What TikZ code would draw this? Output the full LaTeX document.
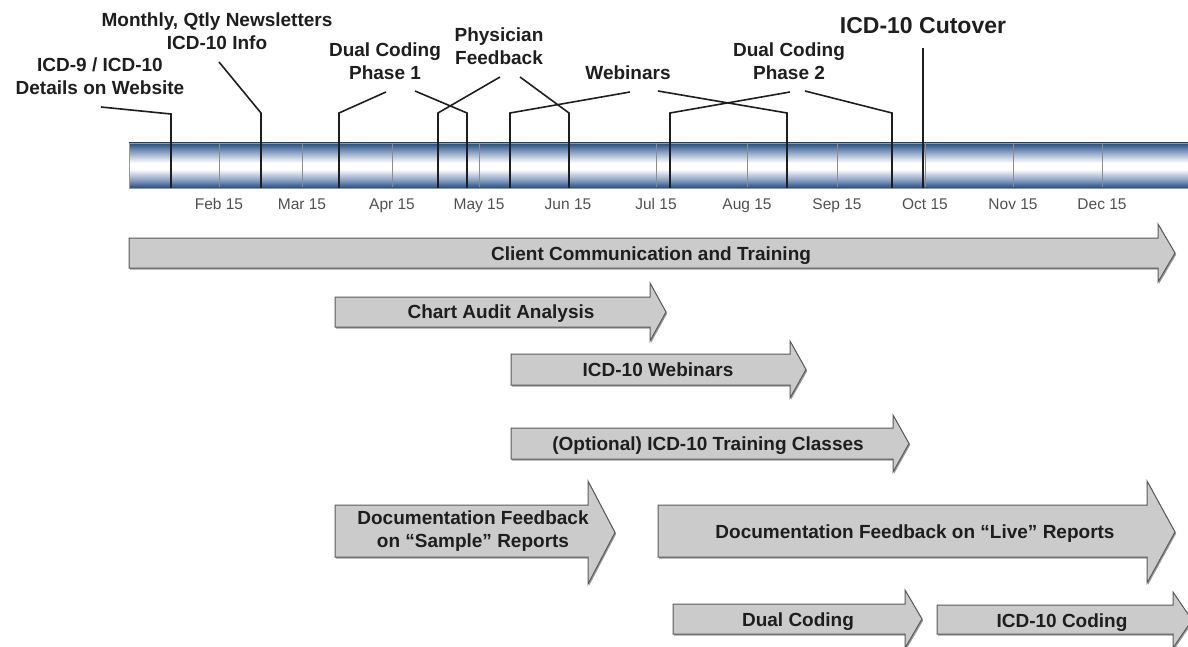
\documentclass[tikz,border=0pt]{standalone}
\usepackage{fontspec}
\setmainfont{Liberation Sans}
\usetikzlibrary{shadows}
\definecolor{barblue}{HTML}{234B7E}
\definecolor{barmid}{HTML}{7F99BD}
\definecolor{arrowfill}{HTML}{CBCBCB}
\definecolor{arrowline}{HTML}{5A5A5A}
\definecolor{monthgray}{HTML}{505050}
\definecolor{inkc}{HTML}{1E1E1E}
\pgfdeclareverticalshading{barshade}{100bp}{color(0bp)=(barblue); color(25bp)=(barblue); color(33bp)=(barmid); color(46bp)=(white); color(53bp)=(white); color(66bp)=(barmid); color(75bp)=(barblue); color(100bp)=(barblue)}
\newcommand\blkarrow[8]{%
  \path[blk] (#1,#4) -- (#2,#4) -- (#2,#6) -- (#3,{(#6+#7)/2}) -- (#2,#7) -- (#2,#5) -- (#1,#5) -- cycle;
}
\begin{document}
\begin{tikzpicture}[x=1pt,y=-1pt,
  lbl/.style={font=\fontsize{19}{23}\selectfont\bfseries, text=inkc, align=center, inner sep=0pt},
  month/.style={font=\fontsize{15.5}{18}\selectfont, text=monthgray, inner sep=0pt, anchor=base},
  call/.style={line width=1.6pt, draw=inkc},
  gridl/.style={line width=0.8pt, draw=black!45},
  blk/.style={fill=arrowfill, draw=arrowline, line width=1pt,
    drop shadow={shadow xshift=1.2pt, shadow yshift=-1.5pt, fill=black!40, opacity=1}},
  atext/.style={font=\fontsize{19}{23}\selectfont\bfseries, text=inkc, align=center, inner sep=0pt},
  abase/.style={atext, anchor=base}]
\useasboundingbox (0,0) rectangle (1188,647);

% timeline bar
\shade[shading=barshade] (129,143) rectangle (1195,188);
\draw[black!40, line width=0.6pt] (1195,143) -- (129,143) -- (129,188) -- (1195,188);
\foreach \gx in {219,302,392,479,568,656,747,837,925,1013,1102}
  \draw[gridl] (\gx,144) -- (\gx,187);

% month labels
\foreach \gx/\m in {219/Feb,302/Mar,392/Apr,479/May,568/Jun,656/Jul,747/Aug,837/Sep,925/Oct,1013/Nov,1102/Dec}
  \node[month] (m\m) at (\gx,209) {\m\ 15};

% callout labels
\node[lbl] (lweb) at (100,76) {ICD-9 / ICD-10\\Details on Website};
\node[lbl] (lnews) at (217,31) {Monthly, Qtly Newsletters\\ICD-10 Info};
\node[lbl] (ldc1) at (385,61) {Dual Coding\\Phase 1};
\node[lbl] (lphys) at (499,46) {Physician\\Feedback};
\node[lbl] (lwebin) at (628,73) {Webinars};
\node[lbl] (ldc2) at (789,61) {Dual Coding\\Phase 2};
\node[font=\fontsize{23}{26}\selectfont\bfseries, text=inkc, inner sep=0pt] (lcut) at (923,26) {ICD-10 Cutover};

% callout connector ends
\coordinate (eweb) at (101,107);
\coordinate (enews) at (219,62);
\coordinate (edc1a) at (386,92);
\coordinate (edc1b) at (415,91);
\coordinate (ephysa) at (500,77);
\coordinate (ephysb) at (520,77);
\coordinate (ewebina) at (630,92);
\coordinate (ewebinb) at (658,91);
\coordinate (edc2a) at (790,92);
\coordinate (edc2b) at (805,91);
\coordinate (ecut) at (923,48);

% callout lines
\draw[call] (171,188) -- (171,114) -- (eweb);
\draw[call] (261,188) -- (261,113) -- (enews);
\draw[call] (339,188) -- (339,113) -- (edc1a);
\draw[call] (467,188) -- (467,113) -- (edc1b);
\draw[call] (438,188) -- (438,113) -- (ephysa);
\draw[call] (569,188) -- (569,113) -- (ephysb);
\draw[call] (510,188) -- (510,113) -- (ewebina);
\draw[call] (787,188) -- (787,113) -- (ewebinb);
\draw[call] (670,188) -- (670,113) -- (edc2a);
\draw[call] (892,188) -- (892,113) -- (edc2b);
\draw[call] (923,188) -- (ecut);

% block arrows
\blkarrow{129}{1158}{1175}{238}{268}{224}{282}{}
\blkarrow{335}{650}{666}{297}{327}{283}{341}{}
\blkarrow{511}{790}{806}{354}{385}{341}{398}{}
\blkarrow{511}{893}{909}{428}{459}{415}{472}{}
\blkarrow{335}{588}{615}{505}{557}{481}{584}{}
\blkarrow{658}{1147}{1175}{505}{557}{481}{583}{}
\blkarrow{673}{905}{922}{604}{634}{590}{648}{}
\blkarrow{937}{1173}{1192}{605}{634}{592}{648}{}

\node[abase] (aclient) at (651,260) {Client Communication and Training};
\node[abase] (achart) at (501,318) {Chart Audit Analysis};
\node[abase] (awebin) at (658,376) {ICD-10 Webinars};
\node[abase] (aopt) at (708,450) {(Optional) ICD-10 Training Classes};
\node[atext] (asample) at (473,531) {Documentation Feedback\\on ``Sample'' Reports};
\node[abase] (alive) at (915,538) {Documentation Feedback on ``Live'' Reports};
\node[abase] (adual) at (798,626) {Dual Coding};
\node[abase] (acoding) at (1062,627) {ICD-10 Coding};
\end{tikzpicture}
\end{document}
